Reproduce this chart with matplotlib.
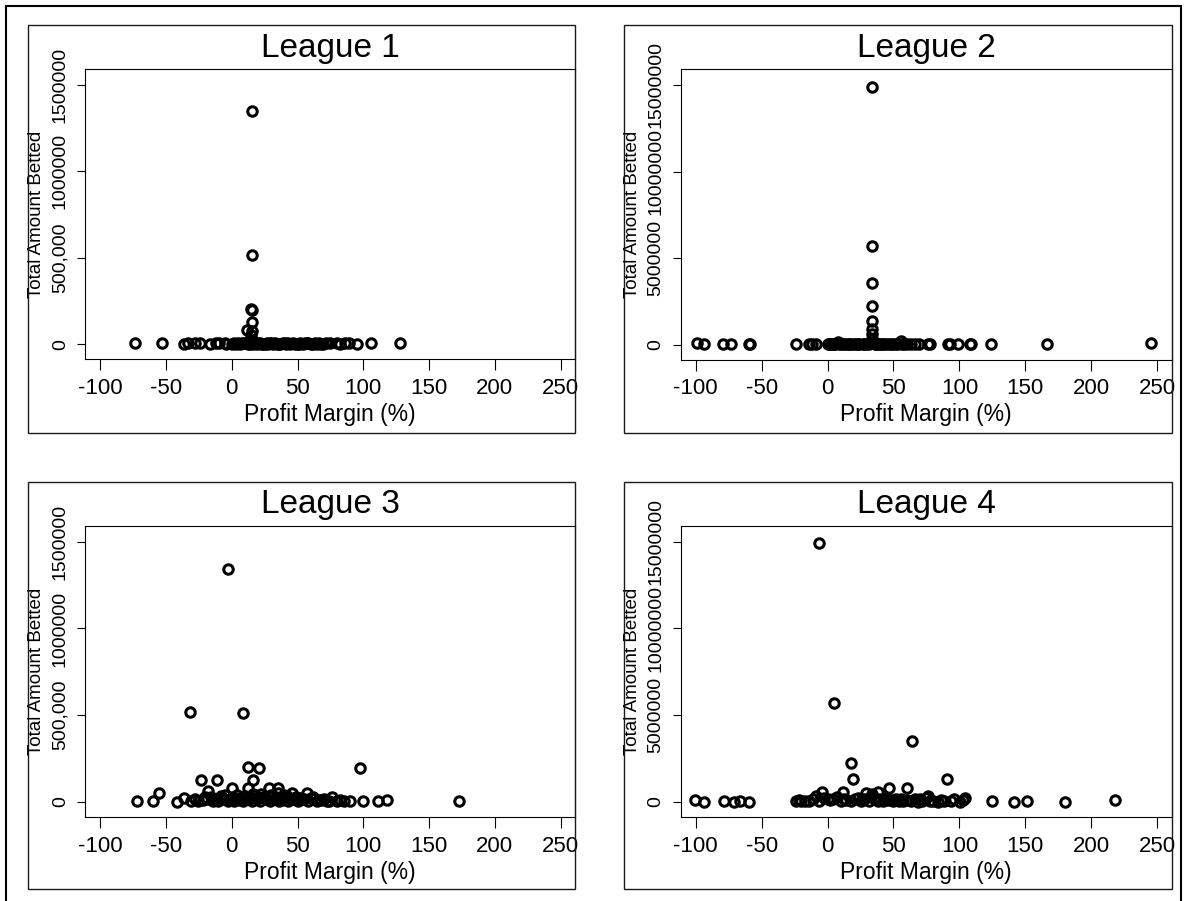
import matplotlib
matplotlib.use("Agg")
import matplotlib.pyplot as plt
import matplotlib.patches as mpatches

plt.rcParams['font.family'] = ['Liberation Sans', 'DejaVu Sans']

titles = ['League 1', 'League 2', 'League 3', 'League 4']
x_ticks = [-100, -50, 0, 50, 100, 150, 200, 250]
y_ticks_small = [0, 500000, 1000000, 1500000]
y_labels_small = ['0', '500,000', '1000000', '1500000']
y_ticks_big = [0, 5000000, 10000000, 15000000]
y_labels_big = ['0', '5000000', '10000000', '15000000']

# league 1
league1_margin = [15.2, 15.2, 15.0, 15.1, 15.2, 11.5, 15.5, 15.0, 15.3, 14.5,
                  -73.6, -53.3, -36.1, -33, -28, -24, -16.6, -12, -9.7, -5, -4, 1.9, 5, 8, 11,
                  13, 15.1, 17, 18, 21.4, 24, 26.5, 30, 33, 36, 40.4, 43, 46.8, 50, 52, 55.6,
                  58, 60, 63.2, 66, 69.6, 72, 75, 79.7, 82, 86, 89, 94.9, 105.6, 127.9,
                  0.5, 3, 6.5, 9.5, 12, 14, 16, 19, 20, 22.5, 25, 27.5, 29, 31.5, 34.5, 37,
                  39, 41.5, 44.5, 48, 51, 54, 57, 61.5, 64.5, 67.5]
league1_amount = [1348000, 515000, 205000, 198000, 125000, 80000, 78000, 52000, 25000, 15000,
                  5000, 4000, 3000, 6000, 4000, 5000, 3000, 7000, 4000, 6000, 3000, 5000, 4000, 8000, 6000,
                  5000, 9000, 4000, 7000, 5000, 3000, 6000, 4000, 5000, 3000, 5000, 4000, 6000, 3000, 5000, 4000,
                  6000, 3000, 5000, 4000, 3000, 6000, 4000, 5000, 3000, 5000, 4000, 3000, 4000, 6000,
                  2000, 3000, 2000, 4000, 3000, 2000, 3000, 2000, 4000, 2000, 3000, 2000, 4000, 2000, 3000, 2000,
                  4000, 2000, 3000, 2000, 3000, 2000, 4000, 2000, 3000, 2000]

# league 2
league2_margin = [34, 34, 34, 34, 34, 34, 34, 34, 34,
                  -98.9, -93.9, -79.2, -73.1, -59.5, -58.5, -24.1, -14, -11.4, -9, 1.3, 3, 5, 7.6,
                  10, 13, 15.2, 18, 21.5, 24, 26.6, 29, 31.7, 36, 38, 41, 43.1, 46.9, 50, 52, 55.8,
                  58, 60, 63.4, 66, 69.7, 76.1, 78, 91.3, 93, 98.9, 107.8, 109, 124.3, 166.1, 245.5,
                  0, 2, 4.5, 6, 8.5, 11.5, 16.5, 20, 23, 27.5, 32.5, 35, 37, 39.5, 44.5, 48, 53.5, 56.5]
league2_amount = [14900000, 5700000, 3560000, 2230000, 1370000, 900000, 620000, 350000, 150000,
                  130000, 60000, 50000, 40000, 30000, 50000, 40000, 50000, 30000, 40000, 50000, 30000, 40000, 150000,
                  50000, 30000, 60000, 40000, 50000, 30000, 40000, 60000, 50000, 40000, 30000, 50000, 40000, 60000, 30000, 50000, 200000,
                  40000, 30000, 50000, 40000, 30000, 50000, 40000, 30000, 50000, 40000, 30000, 50000, 40000, 30000, 120000,
                  20000, 30000, 20000, 40000, 20000, 30000, 20000, 40000, 20000, 30000, 80000, 150000, 30000, 20000, 40000, 20000, 30000, 20000]

# league 3
league3_margin = [-3.1, -31.6, 8.7, 12.5, 20.9, 97.5, -23.4, -11.5, 16.3, 0, 12, 28.5, 34.9,
                  -55.4, -17.8, 45.5, 56.9, 76, -36.6, 18, 22, -20, -8, 4, 25, 31, 40, 52, 62,
                  -71.8, -59.7, -41.9, -31, -25.4, -14.5, -10.7, -3.1, 2, 8.8, 15.1, 21.4, 29,
                  36.1, 43, 50.6, 58, 64.5, 72.1, 79.7, 85, 89.9, 99.5, 111.4, 117.7, 172.7,
                  -19, -6, 6, 11, 18, 26, 33, 38, 47, 55, 68,
                  -28, -22, -16, -13, -9, -5, -1, 1, 3.5, 6.5, 10, 13.5, 16, 19.5, 23.5, 27,
                  30, 32.5, 35.5, 39, 42, 45, 48.5, 53, 60, 66, 70, 74, 82]
league3_amount = [1342000, 517000, 513000, 202000, 198000, 198000, 125000, 125000, 125000, 83000, 79000, 79000, 79000,
                  54000, 64000, 54000, 54000, 29000, 21000, 40000, 45000, 30000, 35000, 40000, 30000, 35000, 40000, 25000, 30000,
                  5000, 4000, 3000, 6000, 4000, 5000, 7000, 4000, 6000, 5000, 4000, 8000, 5000,
                  6000, 4000, 5000, 7000, 4000, 6000, 5000, 6000, 4000, 5000, 7000, 9000, 6000,
                  15000, 20000, 12000, 18000, 25000, 15000, 20000, 12000, 18000, 15000, 12000,
                  20000, 10000, 30000, 15000, 25000, 40000, 20000, 30000, 15000, 25000, 35000, 20000, 45000, 15000, 30000, 20000,
                  40000, 15000, 50000, 25000, 35000, 20000, 30000, 15000, 25000, 10000, 15000, 8000, 12000]

# league 4
league4_margin = [-6.2, 5, 64.2, 17.7, 19.5, 90.5, 60.4, 46.4, -4.3, 11.4, 29.1, 37.9, -8.9, 34.1,
                  76.1, 104.5, -100.2, 217.7,
                  -94, -78.7, -71.1, -66, -59.7, -24.1, -20, -14, -6.4, 0, 4, 10.1, 14, 17.7, 21,
                  25.3, 28, 31.7, 38, 42, 45.7, 50, 54, 57.1, 63.4, 68.5, 72, 77.4, 80, 83.7,
                  88, 93.9, 100.2, 124.8, 141.5, 150.9, 180.1,
                  -22, -17, -11, -3, 2, 7, 12.5, 23, 27, 33, 36, 40, 44, 48, 52, 56, 60, 66, 70, 75, 86, 96, 103]
league4_amount = [14900000, 5690000, 3530000, 2220000, 1310000, 1310000, 830000, 830000, 580000, 580000, 540000, 600000, 350000, 470000,
                  350000, 250000, 120000, 120000,
                  30000, 40000, 30000, 40000, 30000, 50000, 40000, 60000, 40000, 150000, 200000, 50000, 100000, 60000, 150000,
                  40000, 200000, 50000, 60000, 40000, 100000, 50000, 80000, 40000, 60000, 30000, 50000, 40000, 60000, 30000,
                  50000, 40000, 30000, 40000, 30000, 40000, 30000,
                  100000, 50000, 150000, 250000, 100000, 300000, 150000, 250000, 100000, 300000, 200000, 150000, 250000,
                  100000, 200000, 150000, 100000, 200000, 150000, 250000, 100000, 150000, 100000]

margins = [league1_margin, league2_margin, league3_margin, league4_margin]
amounts = [league1_amount, league2_amount, league3_amount, league4_amount]

W, H = 1185, 901
fig = plt.figure(figsize=(W / 100, H / 100), dpi=100)

def fx(px):
    return px / W

def fy(py):
    return 1 - py / H

# pixel boxes: panel (left, right, top, bottom) and axes (left, right, top, bottom)
panel_boxes = [(27.6, 575.2, 25, 433), (623.5, 1171.7, 25, 433),
               (27.6, 575.2, 482.3, 889.3), (623.5, 1171.7, 482.3, 889.3)]
axes_boxes = [(85, 575.2, 69, 359.3), (680.5, 1171.7, 69, 360),
              (85, 575.2, 525.7, 817.3), (680.5, 1171.7, 525.7, 817.3)]

for i in range(4):
    l, r, t, b = axes_boxes[i]
    aw, ah = r - l, b - t
    ax = fig.add_axes([fx(l), fy(b), (r - l) / W, (b - t) / H])
    big = i in (1, 3)
    scale = 10 if big else 1
    ax.plot(margins[i], amounts[i], 'o', mfc='none', mec='black', ms=6.8, mew=2.2,
            linestyle='none', clip_on=False)
    ax.set_xlim(-111.5, 261)
    ax.set_ylim(-88000 * scale, 1592000 * scale)
    ax.set_xticks(x_ticks)
    ax.set_xticklabels([str(v) for v in x_ticks], fontsize=16)
    if big:
        ax.set_yticks(y_ticks_big)
        ax.set_yticklabels(y_labels_big, fontsize=14, rotation=90, va='center')
    else:
        ax.set_yticks(y_ticks_small)
        ax.set_yticklabels(y_labels_small, fontsize=14, rotation=90, va='center')
    ax.tick_params(axis='x', length=10.7 * 0.72, width=0.8, pad=5.5)
    ax.tick_params(axis='y', length=8.4 * 0.72, width=0.8, pad=5.5)
    for sp in ax.spines.values():
        sp.set_linewidth(0.8)
    ax.set_xlabel('Profit Margin (%)', fontsize=16.5)
    ax.xaxis.set_label_coords(0.5, -55 / ah)
    ax.xaxis.label.set_va('center')
    ax.set_ylabel('Total Amount Betted', fontsize=13.5)
    ax.yaxis.set_label_coords(-48 / aw, 0.5)
    ax.yaxis.label.set_va('center')
    ax.text(0.5, 1 + 21 / ah, titles[i], transform=ax.transAxes,
            ha='center', va='center', fontsize=24)

    pl, pr, pt, pb = panel_boxes[i]
    fig.patches.append(mpatches.Rectangle((fx(pl), fy(pb)), (pr - pl) / W, (pb - pt) / H,
                                          transform=fig.transFigure, fill=False,
                                          ec='#1a1a1a', lw=1.0, zorder=10))

# outer frame, bottom edge runs off the picture
fig.patches.append(mpatches.Rectangle((fx(6), -0.02), (1181 - 6) / W, fy(6) + 0.02,
                                      transform=fig.transFigure, fill=False,
                                      ec='black', lw=1.5, zorder=10))

fig.savefig('out.png', dpi=100)
